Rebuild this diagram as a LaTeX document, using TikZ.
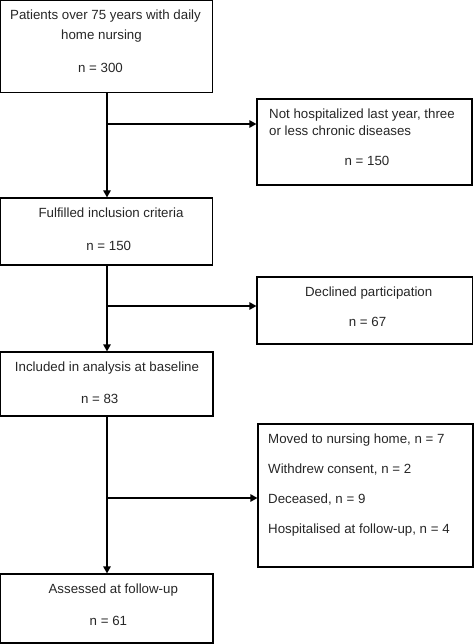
\documentclass[tikz,border=0pt]{standalone}
\usepackage{fontspec}
\setmainfont{Liberation Sans}
\usetikzlibrary{arrows.meta}
\begin{document}
\begin{tikzpicture}[x=1pt,y=-1pt,
  box/.style={draw=black,line width=1.2pt,minimum width=#1,inner sep=0pt},
  txt/.style={anchor=base,inner sep=0pt,font=\fontsize{13.3}{16}\selectfont,text=black!85},
  ltxt/.style={txt,anchor=base west},
  arr/.style={line width=1.2pt,-{Triangle[length=7pt,width=7.5pt]}}]
\useasboundingbox (0,0) rectangle (474,644);
% boxes
\node[box=212pt,minimum height=92pt] (B1) at (106.5,46.5) {};
\node[box=215pt,minimum height=86pt] (B2) at (364.5,142) {};
\node[box=212pt,minimum height=67pt] (B3) at (106.5,231.5) {};
\node[box=215.5pt,minimum height=67pt] (B4) at (364.75,310.5) {};
\node[box=212.5pt,minimum height=64pt] (B5) at (106.75,384) {};
\node[box=215pt,minimum height=143pt] (B6) at (365.5,495.5) {};
\node[box=212.5pt,minimum height=69pt] (B7) at (106.75,608.5) {};
% texts
\node[txt] (t1a) at (105.5,20) {Patients over 75 years with daily};
\node[txt] (t1b) at (101.5,39.5) {home nursing};
\node[txt] (t1c) at (100.5,73) {n = 300};
\node[ltxt] (t2a) at (269,118.5) {Not hospitalized last year, three};
\node[ltxt] (t2b) at (269,136) {or less chronic diseases};
\node[txt] (t2c) at (367,166) {n = 150};
\node[txt] (t3a) at (111,217.5) {Fulfilled inclusion criteria};
\node[txt] (t3b) at (108.7,250) {n = 150};
\node[txt] (t4a) at (368.7,296) {Declined participation};
\node[txt] (t4b) at (367.5,326.5) {n = 67};
\node[txt] (t5a) at (107,371) {Included in analysis at baseline};
\node[txt] (t5b) at (99.7,403.5) {n = 83};
\node[ltxt] (t6a) at (268,443) {Moved to nursing home, n = 7};
\node[ltxt] (t6b) at (268,473) {Withdrew consent, n = 2};
\node[ltxt] (t6c) at (268,503) {Deceased, n = 9};
\node[ltxt] (t6d) at (268,533) {Hospitalised at follow-up, n = 4};
\node[txt] (t7a) at (113.3,593) {Assessed at follow-up};
\node[txt] (t7b) at (108.4,625.5) {n = 61};
% junctions
\coordinate (j1) at (107,124);
\coordinate (j2) at (107,306);
\coordinate (j3) at (107,498);
% connectors
\draw[arr] (B1.south -| j1) -- (B3.north -| j1);
\draw[arr] (B3.south -| j2) -- (B5.north -| j2);
\draw[arr] (B5.south -| j3) -- (B7.north -| j3);
\draw[arr] (j1) -- (B2.west |- j1);
\draw[arr] (j2) -- (B4.west |- j2);
\draw[arr] (j3) -- (B6.west |- j3);
\end{tikzpicture}
\end{document}
